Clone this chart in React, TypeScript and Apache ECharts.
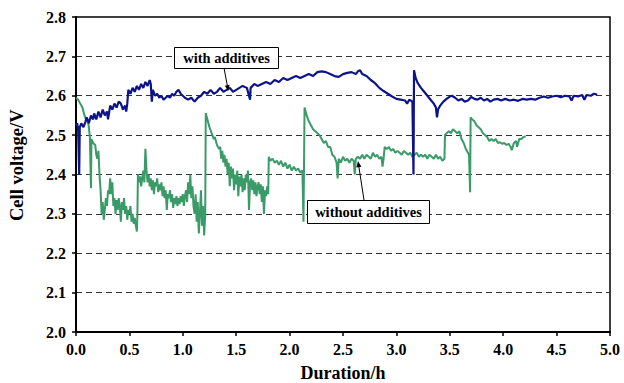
import React, { useEffect, useRef } from "react";
import * as echarts from "echarts";

// Duration (h) / cell voltage (V) pairs
const withAdditives: [number, number][] = [
  [0.0, 2.525], [0.01, 2.53], [0.02, 2.515], [0.03, 2.4], [0.035, 2.52], [0.05, 2.53],
  [0.07, 2.52], [0.09, 2.535], [0.1, 2.545], [0.12, 2.53], [0.14, 2.55], [0.16, 2.54],
  [0.17, 2.555], [0.19, 2.54], [0.21, 2.56], [0.23, 2.545], [0.25, 2.565], [0.27, 2.55],
  [0.29, 2.56], [0.3, 2.54], [0.32, 2.575], [0.34, 2.565], [0.36, 2.58], [0.38, 2.57],
  [0.4, 2.585], [0.42, 2.58], [0.44, 2.565], [0.46, 2.575], [0.47, 2.56], [0.48, 2.58],
  [0.49, 2.615], [0.51, 2.605], [0.53, 2.62], [0.55, 2.61], [0.57, 2.625], [0.59, 2.615],
  [0.61, 2.63], [0.63, 2.62], [0.65, 2.635], [0.67, 2.625], [0.69, 2.64], [0.7, 2.63],
  [0.71, 2.585], [0.72, 2.615], [0.74, 2.6], [0.76, 2.605], [0.78, 2.595], [0.8, 2.6],
  [0.82, 2.59], [0.84, 2.595], [0.86, 2.6], [0.88, 2.595], [0.9, 2.605], [0.92, 2.6],
  [0.94, 2.61], [0.96, 2.615], [0.98, 2.605], [1.0, 2.6], [1.02, 2.595], [1.05, 2.59],
  [1.08, 2.595], [1.11, 2.585], [1.14, 2.595], [1.17, 2.6], [1.2, 2.61], [1.23, 2.605],
  [1.26, 2.615], [1.29, 2.605], [1.32, 2.61], [1.35, 2.62], [1.38, 2.61], [1.41, 2.615],
  [1.44, 2.62], [1.47, 2.61], [1.5, 2.615], [1.53, 2.62], [1.56, 2.625], [1.6, 2.62],
  [1.63, 2.59], [1.635, 2.62], [1.67, 2.63], [1.7, 2.625], [1.74, 2.63], [1.78, 2.635],
  [1.82, 2.63], [1.86, 2.64], [1.9, 2.635], [1.94, 2.645], [1.98, 2.64], [2.02, 2.645],
  [2.06, 2.65], [2.1, 2.645], [2.14, 2.65], [2.18, 2.655], [2.22, 2.65], [2.26, 2.66],
  [2.3, 2.662], [2.34, 2.66], [2.38, 2.655], [2.42, 2.65], [2.46, 2.648], [2.5, 2.655],
  [2.54, 2.658], [2.58, 2.66], [2.62, 2.655], [2.64, 2.662], [2.66, 2.665], [2.68, 2.655],
  [2.72, 2.65], [2.76, 2.64], [2.8, 2.632], [2.84, 2.62], [2.88, 2.612], [2.92, 2.605],
  [2.96, 2.598], [3.0, 2.592], [3.04, 2.59], [3.08, 2.588], [3.1, 2.58], [3.12, 2.59],
  [3.15, 2.585], [3.16, 2.4], [3.165, 2.665], [3.18, 2.645], [3.2, 2.632], [3.23, 2.62],
  [3.26, 2.61], [3.29, 2.6], [3.32, 2.59], [3.35, 2.58], [3.37, 2.57], [3.38, 2.545],
  [3.39, 2.565], [3.41, 2.575], [3.44, 2.585], [3.47, 2.592], [3.5, 2.598], [3.52, 2.6],
  [3.55, 2.595], [3.58, 2.588], [3.61, 2.592], [3.64, 2.585], [3.67, 2.588], [3.7, 2.597],
  [3.73, 2.592], [3.76, 2.59], [3.79, 2.595], [3.82, 2.588], [3.85, 2.592], [3.88, 2.585],
  [3.91, 2.59], [3.95, 2.592], [3.98, 2.588], [4.02, 2.592], [4.06, 2.588], [4.1, 2.59],
  [4.14, 2.587], [4.18, 2.592], [4.22, 2.59], [4.26, 2.592], [4.3, 2.59], [4.34, 2.595],
  [4.38, 2.598], [4.42, 2.595], [4.46, 2.598], [4.5, 2.6], [4.54, 2.596], [4.58, 2.6],
  [4.62, 2.598], [4.64, 2.588], [4.66, 2.6], [4.7, 2.598], [4.74, 2.602], [4.76, 2.59],
  [4.78, 2.602], [4.82, 2.6], [4.85, 2.605], [4.88, 2.603],
];

const withoutAdditives: [number, number][] = [
  [0.0, 2.595], [0.02, 2.59], [0.04, 2.58], [0.06, 2.57], [0.08, 2.55], [0.1, 2.535],
  [0.11, 2.54], [0.12, 2.52], [0.13, 2.495], [0.14, 2.365], [0.145, 2.49], [0.16, 2.48],
  [0.18, 2.475], [0.19, 2.45], [0.2, 2.44], [0.21, 2.46], [0.22, 2.4], [0.23, 2.36],
  [0.24, 2.3], [0.25, 2.33], [0.26, 2.285], [0.27, 2.31], [0.28, 2.34], [0.29, 2.32],
  [0.3, 2.36], [0.31, 2.35], [0.32, 2.39], [0.33, 2.35], [0.34, 2.38], [0.35, 2.32],
  [0.36, 2.34], [0.37, 2.3], [0.38, 2.335], [0.39, 2.31], [0.4, 2.34], [0.41, 2.32],
  [0.42, 2.28], [0.43, 2.33], [0.44, 2.31], [0.45, 2.34], [0.46, 2.3], [0.47, 2.32],
  [0.48, 2.285], [0.49, 2.31], [0.5, 2.3], [0.51, 2.32], [0.52, 2.28], [0.53, 2.3],
  [0.54, 2.275], [0.55, 2.29], [0.56, 2.27], [0.57, 2.255], [0.575, 2.3], [0.58, 2.4],
  [0.59, 2.38], [0.6, 2.395], [0.61, 2.37], [0.62, 2.39], [0.63, 2.41], [0.64, 2.38],
  [0.65, 2.465], [0.66, 2.41], [0.67, 2.38], [0.68, 2.4], [0.69, 2.37], [0.7, 2.39],
  [0.71, 2.36], [0.72, 2.385], [0.73, 2.35], [0.74, 2.38], [0.75, 2.37], [0.76, 2.39],
  [0.77, 2.355], [0.78, 2.375], [0.79, 2.36], [0.8, 2.38], [0.81, 2.345], [0.82, 2.37],
  [0.83, 2.34], [0.84, 2.36], [0.85, 2.31], [0.86, 2.35], [0.87, 2.34], [0.88, 2.36],
  [0.89, 2.33], [0.9, 2.35], [0.91, 2.315], [0.92, 2.34], [0.93, 2.325], [0.94, 2.345],
  [0.95, 2.32], [0.96, 2.34], [0.97, 2.325], [0.98, 2.345], [0.99, 2.33], [1.0, 2.35],
  [1.01, 2.32], [1.02, 2.345], [1.03, 2.36], [1.04, 2.33], [1.05, 2.38], [1.06, 2.35],
  [1.07, 2.4], [1.08, 2.34], [1.09, 2.37], [1.1, 2.32], [1.11, 2.3], [1.12, 2.35],
  [1.13, 2.28], [1.14, 2.33], [1.15, 2.25], [1.16, 2.3], [1.17, 2.36], [1.18, 2.27],
  [1.19, 2.32], [1.2, 2.245], [1.21, 2.3], [1.215, 2.556], [1.23, 2.54], [1.25, 2.52],
  [1.27, 2.505], [1.29, 2.49], [1.3, 2.495], [1.32, 2.475], [1.34, 2.465], [1.35, 2.47],
  [1.36, 2.44], [1.37, 2.46], [1.38, 2.43], [1.39, 2.45], [1.4, 2.42], [1.41, 2.44],
  [1.42, 2.4], [1.43, 2.43], [1.44, 2.37], [1.45, 2.42], [1.46, 2.39], [1.47, 2.415],
  [1.48, 2.36], [1.49, 2.4], [1.5, 2.375], [1.51, 2.41], [1.52, 2.345], [1.53, 2.395],
  [1.54, 2.37], [1.55, 2.4], [1.56, 2.355], [1.57, 2.39], [1.58, 2.36], [1.59, 2.4],
  [1.6, 2.38], [1.61, 2.41], [1.62, 2.31], [1.63, 2.38], [1.64, 2.39], [1.65, 2.36],
  [1.66, 2.385], [1.67, 2.35], [1.68, 2.38], [1.69, 2.345], [1.7, 2.37], [1.71, 2.38],
  [1.72, 2.35], [1.73, 2.375], [1.74, 2.33], [1.75, 2.37], [1.76, 2.3], [1.77, 2.36],
  [1.78, 2.345], [1.79, 2.37], [1.8, 2.35], [1.805, 2.445], [1.82, 2.435], [1.84, 2.44],
  [1.86, 2.43], [1.88, 2.435], [1.9, 2.425], [1.92, 2.435], [1.94, 2.42], [1.96, 2.43],
  [1.98, 2.415], [2.0, 2.425], [2.02, 2.41], [2.04, 2.42], [2.06, 2.41], [2.08, 2.415],
  [2.1, 2.405], [2.12, 2.41], [2.13, 2.28], [2.14, 2.57], [2.16, 2.55], [2.18, 2.535],
  [2.2, 2.525], [2.22, 2.515], [2.24, 2.51], [2.26, 2.505], [2.28, 2.5], [2.3, 2.49],
  [2.32, 2.48], [2.34, 2.485], [2.36, 2.47], [2.38, 2.47], [2.4, 2.45], [2.42, 2.445],
  [2.44, 2.43], [2.45, 2.39], [2.46, 2.44], [2.48, 2.43], [2.5, 2.445], [2.52, 2.435],
  [2.54, 2.44], [2.56, 2.43], [2.58, 2.44], [2.6, 2.435], [2.61, 2.4], [2.62, 2.44],
  [2.64, 2.445], [2.66, 2.44], [2.68, 2.45], [2.7, 2.44], [2.72, 2.45], [2.74, 2.445],
  [2.76, 2.44], [2.78, 2.455], [2.8, 2.445], [2.82, 2.45], [2.84, 2.44], [2.86, 2.445],
  [2.87, 2.42], [2.88, 2.44], [2.89, 2.47], [2.91, 2.465], [2.93, 2.47], [2.95, 2.46],
  [2.97, 2.465], [2.99, 2.455], [3.01, 2.46], [3.03, 2.455], [3.05, 2.45], [3.07, 2.46],
  [3.09, 2.455], [3.11, 2.45], [3.13, 2.455], [3.15, 2.445], [3.17, 2.45], [3.19, 2.455],
  [3.21, 2.445], [3.23, 2.45], [3.25, 2.445], [3.27, 2.45], [3.29, 2.44], [3.31, 2.45],
  [3.33, 2.445], [3.35, 2.44], [3.37, 2.45], [3.39, 2.44], [3.41, 2.445], [3.43, 2.435],
  [3.45, 2.44], [3.455, 2.5], [3.47, 2.505], [3.49, 2.51], [3.51, 2.505], [3.53, 2.515],
  [3.55, 2.51], [3.57, 2.505], [3.59, 2.51], [3.61, 2.49], [3.63, 2.48], [3.65, 2.465],
  [3.67, 2.455], [3.68, 2.45], [3.69, 2.355], [3.695, 2.545], [3.71, 2.54], [3.73, 2.535],
  [3.75, 2.525], [3.77, 2.52], [3.79, 2.515], [3.81, 2.505], [3.83, 2.5], [3.85, 2.495],
  [3.87, 2.485], [3.89, 2.49], [3.91, 2.485], [3.93, 2.49], [3.95, 2.48], [3.97, 2.482],
  [3.99, 2.478], [4.01, 2.48], [4.03, 2.475], [4.05, 2.478], [4.07, 2.47], [4.08, 2.462],
  [4.1, 2.48], [4.12, 2.485], [4.13, 2.47], [4.15, 2.49], [4.17, 2.49], [4.19, 2.495],
  [4.21, 2.497],
];

const xTicks = { min: 0, max: 5, interval: 0.5 };
const yTicks = { min: 2.0, max: 2.8, interval: 0.1 };
const labels = {
  x: "Duration/h",
  y: "Cell voltage/V",
  withA: "with additives",
  withoutA: "without additives",
};

const FONT = "Liberation Serif";

export default function App() {
  const ref = useRef<HTMLDivElement>(null);
  useEffect(() => {
    if (!ref.current) return;
    const chart = echarts.init(ref.current, undefined, { renderer: "svg" });
    chart.setOption({
      animation: false,
      backgroundColor: "#fff",
      textStyle: { fontFamily: FONT },
      grid: {
        left: 76, right: 14, top: 17, bottom: 51,
        show: true, borderColor: "#000", borderWidth: 1.5, backgroundColor: "transparent",
      },
      xAxis: {
        type: "value", ...xTicks,
        axisLine: { show: true, onZero: false, lineStyle: { color: "#000", width: 2 } },
        axisTick: { show: true, inside: false, length: 4, lineStyle: { color: "#000", width: 1.5 } },
        axisLabel: {
          fontFamily: FONT, fontWeight: "bold", fontSize: 16, color: "#000",
          margin: 9, formatter: (v: number) => v.toFixed(1),
        },
        splitLine: { show: false },
      },
      yAxis: {
        type: "value", ...yTicks,
        axisLine: { show: true, onZero: false, lineStyle: { color: "#000", width: 2 } },
        axisTick: { show: true, inside: false, length: 4, lineStyle: { color: "#000", width: 1.5 } },
        axisLabel: {
          fontFamily: FONT, fontWeight: "bold", fontSize: 16, color: "#000",
          margin: 10, formatter: (v: number) => v.toFixed(1),
        },
        splitLine: {
          show: true, showMinLine: false, showMaxLine: false,
          lineStyle: { color: "#333", width: 1, type: [6, 4] },
        },
      },
      series: [
        {
          name: labels.withoutA, type: "line", data: withoutAdditives, showSymbol: false,
          lineStyle: { color: "#3a9a68", width: 2 }, z: 2,
        },
        {
          name: labels.withA, type: "line", data: withAdditives, showSymbol: false,
          lineStyle: { color: "#0c1488", width: 2.2 }, z: 3,
        },
      ],
      graphic: [
        {
          type: "text", z: 10, x: 7, y: 221, rotation: Math.PI / 2,
          style: { text: labels.y, font: `bold 18.5px ${FONT}`, fill: "#000" },
        },
        {
          type: "text", x: 343, y: 373, z: 10,
          style: { text: labels.x, font: `bold 18px ${FONT}`, fill: "#000", align: "center", verticalAlign: "middle" },
        },
        // annotation: with additives
        { type: "line", z: 20, shape: { x1: 224, y1: 68, x2: 227.6, y2: 87 }, style: { stroke: "#000", lineWidth: 1 } },
        { type: "polygon", z: 20, shape: { points: [[228.3, 91], [229.6, 84.8], [224.8, 85.7]] }, style: { fill: "#000" } },
        { type: "rect", z: 20, shape: { x: 174.5, y: 47.5, width: 104, height: 21 }, style: { fill: "#fff", stroke: "#000", lineWidth: 1 } },
        {
          type: "text", z: 21, x: 226.5, y: 58,
          style: { text: labels.withA, font: `bold 14.5px ${FONT}`, fill: "#000", align: "center", verticalAlign: "middle" },
        },
        // annotation: without additives
        { type: "line", z: 20, shape: { x1: 364, y1: 200, x2: 358.6, y2: 165 }, style: { stroke: "#000", lineWidth: 1 } },
        { type: "polygon", z: 20, shape: { points: [[358, 161], [361.4, 166.8], [356.4, 167.5]] }, style: { fill: "#000" } },
        { type: "rect", z: 20, shape: { x: 307.5, y: 200.5, width: 122, height: 23 }, style: { fill: "#fff", stroke: "#000", lineWidth: 1 } },
        {
          type: "text", z: 21, x: 368.5, y: 212,
          style: { text: labels.withoutA, font: `bold 14.5px ${FONT}`, fill: "#000", align: "center", verticalAlign: "middle" },
        },
      ],
    });
    return () => chart.dispose();
  }, []);
  return (
    <div
      ref={ref}
      style={{ position: "fixed", left: 0, top: 0, width: 624, height: 383, background: "#fff" }}
    />
  );
}
